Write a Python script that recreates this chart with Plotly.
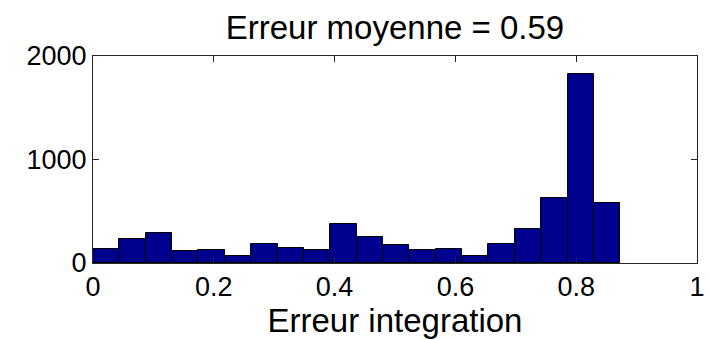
import numpy as np
import plotly.graph_objects as go

# Histogram data (20 bins from 0 to ~0.873)
bin_start = 0.0
bin_end = 0.873
counts = [138, 228, 290, 119, 129, 64, 187, 141, 129, 377,
          255, 174, 122, 132, 64, 187, 329, 625, 1830, 584]
x_ticks = [0, 0.2, 0.4, 0.6, 0.8, 1]
x_tick_labels = ["0", "0.2", "0.4", "0.6", "0.8", "1"]
y_ticks = [0, 1000, 2000]
y_tick_labels = ["0", "1000", "2000"]
title_text = "Erreur moyenne = 0.59"
x_label = "Erreur integration"

edges = np.linspace(bin_start, bin_end, len(counts) + 1)
centers = (edges[:-1] + edges[1:]) / 2
width = edges[1] - edges[0]

font_family = "Liberation Sans, Arial, sans-serif"

fig = go.Figure()
fig.add_trace(go.Bar(
    x=centers, y=counts, width=width,
    marker=dict(color="#00008F", line=dict(color="#000000", width=1)),
    hoverinfo="x+y",
))

axis_common = dict(
    showline=True, linecolor="#262626", linewidth=1, mirror="ticks",
    ticks="inside", ticklen=6, tickcolor="#262626", tickwidth=1,
    showgrid=False, zeroline=False, automargin=False,
    tickfont=dict(family=font_family, size=27, color="#000000"),
)

fig.update_layout(
    width=710, height=340,
    margin=dict(l=93, r=13, t=56, b=77),
    paper_bgcolor="white", plot_bgcolor="white",
    bargap=0, showlegend=False,
    title=dict(text=title_text, x=395 / 710, xanchor="center",
               y=1 - 27 / 340, yanchor="middle", yref="container",
               font=dict(family=font_family, size=33, color="#000000")),
    xaxis=dict(range=[0, 1], tickvals=x_ticks, ticktext=x_tick_labels,
               title=dict(text=x_label, standoff=4,
                          font=dict(family=font_family, size=33, color="#000000")),
               **axis_common),
    yaxis=dict(range=[0, 2000], tickvals=y_ticks, ticktext=y_tick_labels,
               **axis_common),
)

fig.write_html("out.html")
